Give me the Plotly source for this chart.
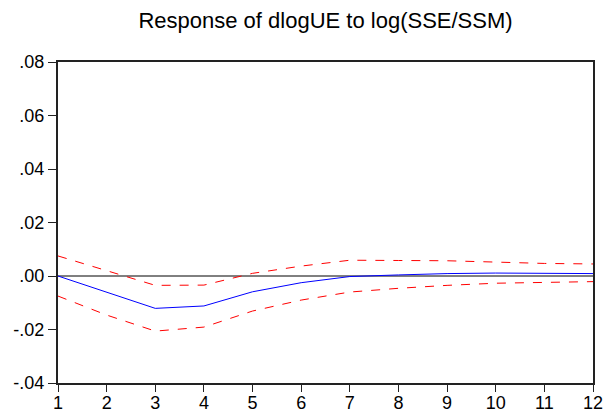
import plotly.graph_objects as go

periods = list(range(1, 13))
response = [0.0, -0.0060, -0.0121, -0.0112, -0.0059, -0.0025, -0.0002, 0.0004, 0.0009, 0.0011, 0.0010, 0.0009]
upper = [0.0075, 0.0020, -0.0035, -0.0034, 0.0010, 0.0037, 0.0059, 0.0058, 0.0057, 0.0052, 0.0047, 0.0045]
lower = [-0.0075, -0.0146, -0.0206, -0.0191, -0.0131, -0.0090, -0.0060, -0.0046, -0.0035, -0.0027, -0.0024, -0.0021]
ytick_vals = [-0.04, -0.02, 0.0, 0.02, 0.04, 0.06, 0.08]
ytick_text = ["-.04", "-.02", ".00", ".02", ".04", ".06", ".08"]

fig = go.Figure()
fig.add_trace(go.Scatter(x=periods, y=[0]*len(periods), mode="lines",
                         line=dict(color="black", width=1), hoverinfo="skip"))
fig.add_trace(go.Scatter(x=periods, y=upper, mode="lines",
                         line=dict(color="#ff0000", width=1, dash="dash")))
fig.add_trace(go.Scatter(x=periods, y=lower, mode="lines",
                         line=dict(color="#ff0000", width=1, dash="dash")))
fig.add_trace(go.Scatter(x=periods, y=response, mode="lines",
                         line=dict(color="#0000ff", width=1)))

fig.update_layout(
    width=609, height=416,
    margin=dict(l=58, r=16, t=62, b=33),
    paper_bgcolor="white", plot_bgcolor="white",
    showlegend=False,
    font=dict(family="Liberation Sans, Arial, sans-serif", color="black", size=18),
    title=dict(text="Response of dlogUE to log(SSE/SSM)", xref="paper", x=0.5,
               xanchor="center", y=0.952, yanchor="middle", font=dict(size=22)),
)
fig.update_xaxes(range=[1, 12], tickvals=periods, showgrid=False, zeroline=False,
                 showline=True, linecolor="#222222", linewidth=2, mirror=True,
                 ticks="outside", ticklen=7, tickcolor="#222222", tickwidth=1,
                 ticklabelstandoff=-5, automargin=False)
fig.update_yaxes(range=[-0.04, 0.08], tickvals=ytick_vals, ticktext=ytick_text,
                 showgrid=False, zeroline=False,
                 showline=True, linecolor="#222222", linewidth=2, mirror=True,
                 ticks="outside", ticklen=8, tickcolor="#222222", tickwidth=1,
                 automargin=False)

fig.write_html("out.html")
